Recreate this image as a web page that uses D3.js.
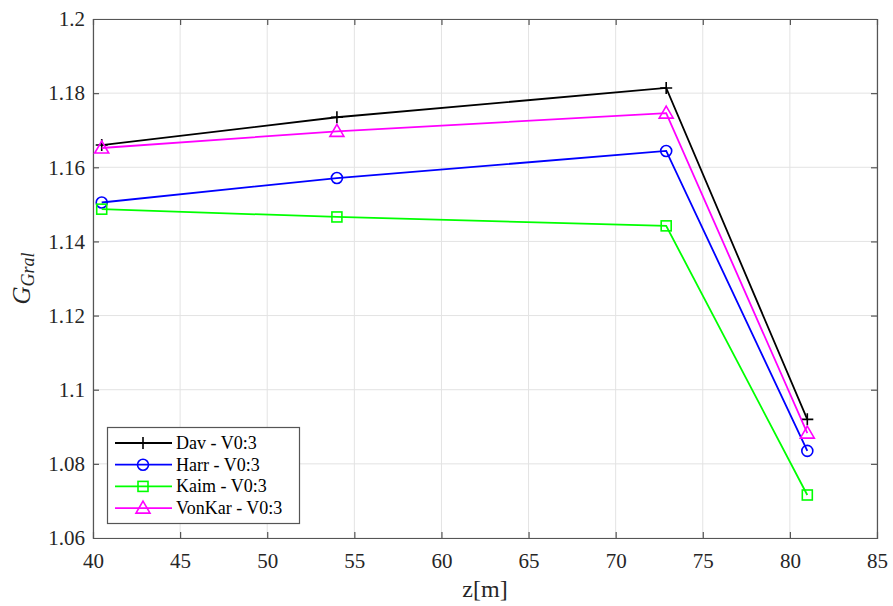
<!DOCTYPE html>
<html><head><meta charset="utf-8">
<script src="https://cdn.jsdelivr.net/npm/d3@7"></script>
<style>body{margin:0;background:#fff}svg{display:block}svg text{font-family:"Liberation Serif","Times New Roman",serif !important}</style>
</head><body><svg id="c" width="893" height="606"></svg>
<script>
const zValues = [40.5, 54, 72.9, 81];
const seriesNames = ["Dav - V0:3", "Harr - V0:3", "Kaim - V0:3", "VonKar - V0:3"];
const davValues = [1.1660, 1.1735, 1.1814, 1.0920];
const harrValues = [1.1505, 1.1571, 1.1644, 1.0835];
const kaimValues = [1.1487, 1.1466, 1.1442, 1.0716];
const vonKarValues = [1.1652, 1.1697, 1.1746, 1.0883];
const xTicks = [40, 45, 50, 55, 60, 65, 70, 75, 80, 85];
const yTicks = [1.06, 1.08, 1.1, 1.12, 1.14, 1.16, 1.18, 1.2];
const yTickLabels = ["1.06", "1.08", "1.1", "1.12", "1.14", "1.16", "1.18", "1.2"];

const series = [
  {name: seriesNames[0], values: davValues, color: "#000000", marker: "plus"},
  {name: seriesNames[1], values: harrValues, color: "#0000ff", marker: "circle"},
  {name: seriesNames[2], values: kaimValues, color: "#00ff00", marker: "square"},
  {name: seriesNames[3], values: vonKarValues, color: "#ff00ff", marker: "triangle"}
];

const FONT = '"Liberation Serif", "Times New Roman", serif';
const L = 93, R = 877, T = 19, B = 538;
const svg = d3.select("#c");
const x = d3.scaleLinear().domain([40, 85]).range([L, R]);
const y = d3.scaleLinear().domain([1.06, 1.2]).range([B, T]);

// grid
const g = svg.append("g");
g.selectAll(".gx").data(xTicks).enter().append("line")
  .attr("x1", d => x(d)).attr("x2", d => x(d)).attr("y1", T).attr("y2", B)
  .attr("stroke", "#e3e3e3").attr("stroke-width", 1);
g.selectAll(".gy").data(yTicks).enter().append("line")
  .attr("y1", d => y(d)).attr("y2", d => y(d)).attr("x1", L).attr("x2", R)
  .attr("stroke", "#e3e3e3").attr("stroke-width", 1);

// axes
const axCol = "#555555";
const xb = svg.append("g").attr("transform", `translate(0,${B})`)
  .call(d3.axisBottom(x).tickValues(xTicks).tickSize(-6).tickPadding(15).tickFormat(d3.format("d")));
const xt = svg.append("g").attr("transform", `translate(0,${T})`)
  .call(d3.axisTop(x).tickValues(xTicks).tickSize(-6).tickFormat(""));
const yl = svg.append("g").attr("transform", `translate(${L},0)`)
  .call(d3.axisLeft(y).tickValues(yTicks).tickSize(-6).tickPadding(8).tickFormat((d, i) => yTickLabels[i]));
const yr = svg.append("g").attr("transform", `translate(${R},0)`)
  .call(d3.axisRight(y).tickValues(yTicks).tickSize(-6).tickFormat(""));
[xb, xt, yl, yr].forEach(a => {
  a.attr("font-family", FONT).style("font-family", FONT);
  a.select(".domain").attr("stroke", axCol).attr("stroke-width", 1.2);
  a.selectAll(".tick line").attr("stroke", axCol).attr("stroke-width", 1.2);
  a.selectAll("text").attr("fill", "#262626").attr("font-size", 21)
    .style("font-family", FONT);
});
xb.selectAll(".tick line").filter(d => d === 40 || d === 85).attr("opacity", 0);
xt.selectAll(".tick line").filter(d => d === 40 || d === 85).attr("opacity", 0);
yl.selectAll(".tick line").filter(d => d === 1.06 || d === 1.2).attr("opacity", 0);
yr.selectAll(".tick line").filter(d => d === 1.06 || d === 1.2).attr("opacity", 0);

// labels
svg.append("text").attr("x", (L + R) / 2).attr("y", 597).attr("text-anchor", "middle")
  .attr("font-size", 24).attr("fill", "#262626").style("font-family", FONT).text("z[m]");
const yLab = svg.append("text").attr("transform", `translate(30,${(T + B) / 2}) rotate(-90)`)
  .attr("text-anchor", "middle").attr("fill", "#262626").attr("font-style", "italic").style("font-family", FONT);
yLab.append("tspan").attr("font-size", 25).text("G");
yLab.append("tspan").attr("font-size", 18).attr("dy", 4).text("Gral");

function drawMarker(sel, type, color) {
  if (type === "plus") {
    sel.append("path").attr("d", "M-6,0H6M0,-6V6").attr("stroke", color).attr("stroke-width", 1.6).attr("fill", "none");
  } else if (type === "circle") {
    sel.append("circle").attr("r", 5.5).attr("stroke", color).attr("stroke-width", 1.6).attr("fill", "none");
  } else if (type === "square") {
    sel.append("rect").attr("x", -5).attr("y", -5).attr("width", 10).attr("height", 10)
      .attr("stroke", color).attr("stroke-width", 1.6).attr("fill", "none");
  } else if (type === "triangle") {
    sel.append("path").attr("d", "M0,-7L7,5H-7Z").attr("stroke", color).attr("stroke-width", 1.6).attr("fill", "none");
  }
}

const line = d3.line().x((d, i) => x(zValues[i])).y(d => y(d));
series.forEach(s => {
  svg.append("path").attr("d", line(s.values)).attr("fill", "none")
    .attr("stroke", s.color).attr("stroke-width", 1.8);
  s.values.forEach((v, i) => {
    const m = svg.append("g").attr("transform", `translate(${x(zValues[i])},${y(v)})`);
    drawMarker(m, s.marker, s.color);
  });
});

// legend
const lg = svg.append("g");
lg.append("rect").attr("x", 107.5).attr("y", 427.5).attr("width", 192).attr("height", 96)
  .attr("fill", "#fff").attr("stroke", "#555").attr("stroke-width", 1.2);
series.forEach((s, i) => {
  const yy = 443 + i * 21.7;
  lg.append("line").attr("x1", 115).attr("x2", 172).attr("y1", yy).attr("y2", yy)
    .attr("stroke", s.color).attr("stroke-width", 1.8);
  const m = lg.append("g").attr("transform", `translate(143,${yy})`);
  drawMarker(m, s.marker, s.color);
  lg.append("text").attr("x", 176).attr("y", yy + 6).attr("font-size", 18).attr("fill", "#000")
    .style("font-family", FONT).text(s.name);
});
</script></body></html>
